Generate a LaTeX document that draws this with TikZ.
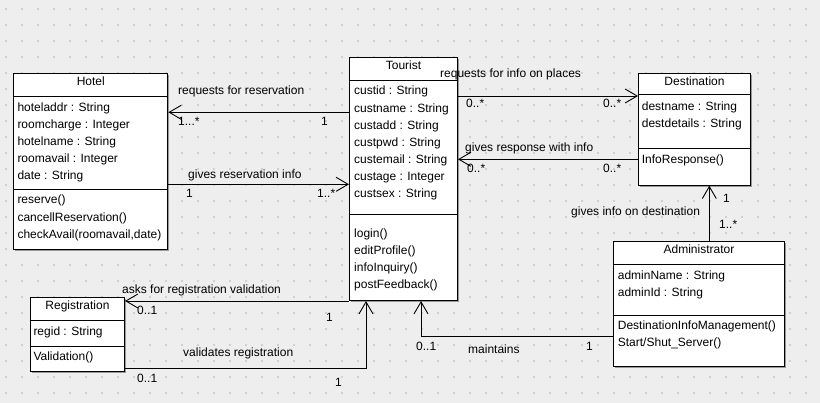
\documentclass[tikz,border=0pt]{standalone}
\usepackage{fontspec}
\setmainfont{Liberation Sans}
\usetikzlibrary{arrows.meta,shadows}
\definecolor{umlback}{RGB}{238,238,238}
\definecolor{umldot}{RGB}{208,208,208}

\begin{document}
\begin{tikzpicture}[x=1pt,y=-1pt,
    classbox/.style={draw,fill=white,line width=1pt,anchor=north west,inner sep=0pt,
      drop shadow={shadow xshift=1.5pt,shadow yshift=-1.5pt,fill=black!40,opacity=1}},
    ctitle/.style={anchor=base,inner sep=0pt,font=\fontsize{12}{14}\selectfont},
    member/.style={anchor=north west,inner sep=0pt,align=left,font=\fontsize{12}{17.15}\selectfont},
    lbl/.style={anchor=base west,inner sep=0pt,font=\fontsize{12}{14}\selectfont},
    assoc/.style={line width=0.9pt,-{Straight Barb[length=12pt,width=14pt]}}]
    % background with dot grid
    \fill[umlback] (0,0) rectangle (820,403);
    \useasboundingbox (0,0) rectangle (820,403);
    \foreach \x in {6,22,...,818}
        \foreach \y in {9,25,...,393}
            \fill[umldot] (\x-1,\y-1) rectangle (\x+1,\y+1);

    % Hotel
    \node[classbox,minimum width=154pt,minimum height=176.3pt] (hotel) at (13.3,72.7) {};
    \draw (hotel.west |- 0,96.7) -- (hotel.east |- 0,96.7);
    \draw (hotel.west |- 0,189.3) -- (hotel.east |- 0,189.3);
    \node[ctitle] (hotel-name) at (hotel.north |- 0,86) {Hotel};
    \node[member] (hotel-attr) at (17.3,102.3) {hoteladdr : String\\roomcharge : Integer\\hotelname : String\\roomavail : Integer\\date : String};
    \node[member] (hotel-ops) at (17.3,195) {reserve()\\cancellReservation()\\checkAvail(roomavail,date)};

    % Tourist
    \node[classbox,minimum width=108pt,minimum height=242.7pt] (tourist) at (349,57.3) {};
    \draw (tourist.west |- 0,80) -- (tourist.east |- 0,80);
    \draw (tourist.west |- 0,214.3) -- (tourist.east |- 0,214.3);
    \node[ctitle] (tourist-name) at (tourist.north |- 0,69.3) {Tourist};
    \node[member] (tourist-attr) at (354,86) {custid : String\\custname : String\\custadd : String\\custpwd : String\\custemail : String\\custage : Integer\\custsex : String};
    \node[member] (tourist-ops) at (354,228.3) {login()\\editProfile()\\infoInquiry()\\postFeedback()};

    % Destination
    \node[classbox,minimum width=112pt,minimum height=112pt] (destination) at (638,72.7) {};
    \draw (destination.west |- 0,94) -- (destination.east |- 0,94);
    \draw (destination.west |- 0,148.3) -- (destination.east |- 0,148.3);
    \node[ctitle] (destination-name) at (destination.north |- 0,86) {Destination};
    \node[member] (destination-attr) at (641.7,101.7) {destname : String\\destdetails : String};
    \node[member] (destination-ops) at (641.7,154.3) {InfoResponse()};

    % Administrator
    \node[classbox,minimum width=171pt,minimum height=125pt] (admin) at (613,241) {};
    \draw (admin.west |- 0,264.3) -- (admin.east |- 0,264.3);
    \draw (admin.west |- 0,315) -- (admin.east |- 0,315);
    \node[ctitle] (admin-name) at (admin.north |- 0,254) {Administrator};
    \node[member] (admin-attr) at (617.7,270.7) {adminName : String\\adminId : String};
    \node[member] (admin-ops) at (617.7,320.3) {DestinationInfoManagement()\\Start/Shut\_Server()};

    % Registration
    \node[classbox,minimum width=94pt,minimum height=74pt] (registration) at (30,296.7) {};
    \draw (registration.west |- 0,320) -- (registration.east |- 0,320);
    \draw (registration.west |- 0,346) -- (registration.east |- 0,346);
    \node[ctitle] (registration-name) at (registration.north |- 0,310) {Registration};
    \node[member] (registration-attr) at (33.3,326.7) {regid : String};
    \node[member] (registration-ops) at (33.3,351.7) {Validation()};

    % associations
    \draw[assoc] (tourist.west |- 0,112.3) -- (hotel.east |- 0,112.3);
    \draw[assoc] (hotel.east |- 0,184.3) -- (tourist.west |- 0,184.3);
    \draw[assoc] (tourist.east |- 0,96) -- (destination.west |- 0,96);
    \draw[assoc] (destination.west |- 0,159.3) -- (tourist.east |- 0,159.3);
    \draw[assoc] (admin.north -| 709.3,0) -- (destination.south -| 709.3,0);
    \draw[assoc] (tourist.south west) -- (registration.east |- tourist.south west);
    \draw[assoc] (registration.east |- 0,368.3) -| (tourist.south -| 366,0);
    \draw[assoc] (admin.west |- 0,336) -| (tourist.south -| 421,0);

    % association labels
    \node[lbl] (reqres) at (178,95) {requests for reservation};
    \node[lbl] (reqres-h) at (178,126) {1...*};
    \node[lbl] (reqres-t) at (321,126) {1};
    \node[lbl] (givres) at (188,179) {gives reservation info};
    \node[lbl] (givres-h) at (186,198) {1};
    \node[lbl] (givres-t) at (317,198) {1..*};
    \node[lbl] (reqinfo) at (440,78) {requests for info on places};
    \node[lbl] (reqinfo-t) at (466,108) {0..*};
    \node[lbl] (reqinfo-d) at (603,108) {0..*};
    \node[lbl] (resp) at (465,152) {gives response with info};
    \node[lbl] (resp-t) at (467,173) {0..*};
    \node[lbl] (resp-d) at (603,173) {0..*};
    \node[lbl] (destinfo) at (571,216) {gives info on destination};
    \node[lbl] (destinfo-d) at (723,203) {1};
    \node[lbl] (destinfo-a) at (719,229) {1..*};
    \node[lbl] (askval) at (122,294) {asks for registration validation};
    \node[lbl] (askval-r) at (137,315) {0..1};
    \node[lbl] (askval-t) at (326,322) {1};
    \node[lbl] (valreg) at (183,357) {validates registration};
    \node[lbl] (valreg-r) at (137,383) {0..1};
    \node[lbl] (valreg-t) at (335,387) {1};
    \node[lbl] (maint-t) at (416,351) {0..1};
    \node[lbl] (maint) at (468,354) {maintains};
    \node[lbl] (maint-a) at (586,351) {1};
\end{tikzpicture}
\end{document}
